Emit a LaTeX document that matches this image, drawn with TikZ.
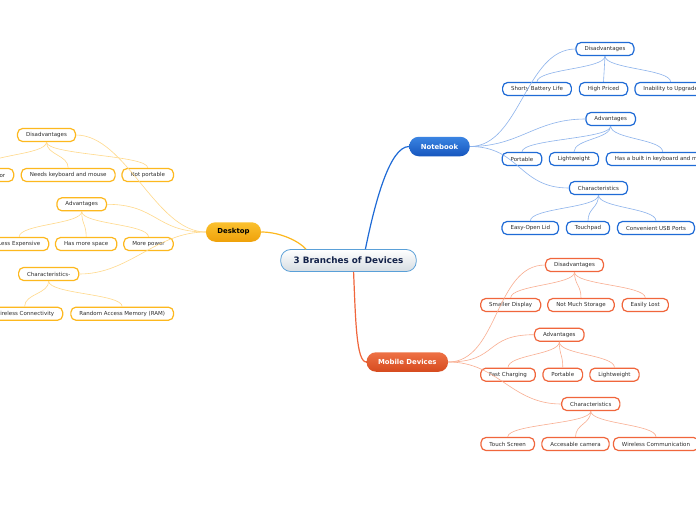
\documentclass[tikz,border=0pt]{standalone}
\usepackage{fontspec}
\setmainfont{DejaVu Sans}
\usepackage{xcolor}
\definecolor{nbblue}{RGB}{31,107,214}
\definecolor{nbtop}{RGB}{58,132,226}
\definecolor{nbbot}{RGB}{22,86,190}
\definecolor{nbpale}{RGB}{141,179,236}
\definecolor{dtgold}{RGB}{253,184,30}
\definecolor{dttop}{RGB}{251,193,46}
\definecolor{dtbot}{RGB}{239,161,10}
\definecolor{dtpale}{RGB}{255,217,138}
\definecolor{mdorange}{RGB}{240,102,60}
\definecolor{mdtop}{RGB}{238,113,69}
\definecolor{mdbot}{RGB}{214,74,30}
\definecolor{mdpale}{RGB}{249,174,145}
\definecolor{rootline}{RGB}{90,160,216}
\definecolor{rootfill}{RGB}{214,221,226}
\definecolor{rootink}{RGB}{20,35,74}
\definecolor{leafink}{RGB}{45,45,45}

\tikzset{
  root/.style={draw=rootline, line width=0.8pt, rounded corners=10pt, top color=white, bottom color=rootfill,
    text=rootink, font=\fontsize{8.8}{10}\selectfont\bfseries, minimum height=22pt, inner xsep=13pt},
  branch/.style={rounded corners=9.5pt, minimum height=19.5pt, inner xsep=11.5pt,
    font=\fontsize{6.9}{8}\selectfont\bfseries},
  leaf/.style={draw=#1, fill=white, line width=1.2pt, rounded corners=5pt, minimum height=13pt,
    inner xsep=8.5pt, text=leafink, font=\fontsize{5.5}{6}\selectfont},
  hub/.style={draw=#1, line width=1.2pt},
  twig/.style={draw=#1, line width=0.6pt},
}

\begin{document}
\begin{tikzpicture}[x=1pt, y=-1pt]
  \useasboundingbox (0,0) rectangle (696,520);
  \clip (0,0) rectangle (696,520);
  \fill[white] (0,0) rectangle (696,520);

  \node[root] (root) at (348.5,260.5) {3 Branches of Devices};

  % Notebook
  \node[branch, top color=nbtop, bottom color=nbbot, text=white] (nb) at (439.5,146.5) {Notebook};
  \node[leaf=nbblue] (nbdis) at (605,49) {Disadvantages};
  \node[leaf=nbblue] (nbbat) at (537,89) {Shorty Battery Life};
  \node[leaf=nbblue] (nbprice) at (603.5,89) {High Priced};
  \node[leaf=nbblue, anchor=west] (nbupg) at (634.3,89) {Inability to Upgrade};
  \node[leaf=nbblue] (nbadv) at (610.7,119) {Advantages};
  \node[leaf=nbblue] (nbport) at (522,159) {Portable};
  \node[leaf=nbblue] (nbweight) at (574,159) {Lightweight};
  \node[leaf=nbblue, anchor=west] (nbkey) at (605.7,159) {Has a built in keyboard and mouse};
  \node[leaf=nbblue] (nbchar) at (598.5,188) {Characteristics};
  \node[leaf=nbblue] (nblid) at (530.3,228) {Easy-Open Lid};
  \node[leaf=nbblue] (nbpad) at (588,228) {Touchpad};
  \node[leaf=nbblue] (nbusb) at (656,228) {Convenient USB Ports};

  % Desktop
  \node[branch, top color=dttop, bottom color=dtbot, text=black] (dt) at (233.5,232) {Desktop};
  \node[leaf=dtgold] (dtdis) at (46.5,135) {Disadvantages};
  \node[leaf=dtgold, anchor=east] (dtmon) at (14.3,175) {Needs a monitor};
  \node[leaf=dtgold] (dtkey) at (68.2,175) {Needs keyboard and mouse};
  \node[leaf=dtgold] (dtport) at (147.8,175) {Not portable};
  \node[leaf=dtgold] (dtadv) at (81.7,204.3) {Advantages};
  \node[leaf=dtgold, anchor=east] (dtcost) at (49.3,244) {Less Expensive};
  \node[leaf=dtgold] (dtspace) at (86.2,244) {Has more space};
  \node[leaf=dtgold] (dtpower) at (148.5,244) {More power};
  \node[leaf=dtgold] (dtchar) at (48.7,274) {Characteristics-};
  \node[leaf=dtgold, anchor=east] (dtwifi) at (63.3,313.7) {Wireless Connectivity};
  \node[leaf=dtgold] (dtram) at (122.2,313.7) {Random Access Memory (RAM)};

  % Mobile Devices
  \node[branch, top color=mdtop, bottom color=mdbot, text=white] (md) at (407.3,362) {Mobile Devices};
  \node[leaf=mdorange] (mddis) at (574.5,265) {Disadvantages};
  \node[leaf=mdorange] (mddisp) at (510.7,305) {Smaller Display};
  \node[leaf=mdorange] (mdstore) at (581,305) {Not Much Storage};
  \node[leaf=mdorange] (mdlost) at (645.3,305) {Easily Lost};
  \node[leaf=mdorange] (mdadv) at (559.3,334.7) {Advantages};
  \node[leaf=mdorange] (mdcharge) at (508,374.7) {Fast Charging};
  \node[leaf=mdorange] (mdport) at (562.8,374.7) {Portable};
  \node[leaf=mdorange] (mdweight) at (614.5,374.7) {Lightweight};
  \node[leaf=mdorange] (mdchar) at (590.8,404) {Characteristics};
  \node[leaf=mdorange] (mdtouch) at (507.7,444) {Touch Screen};
  \node[leaf=mdorange] (mdcam) at (575.5,444) {Accesable camera};
  \node[leaf=mdorange] (mdcomm) at (656,444) {Wireless Communication};

  % main branches
  \draw[hub=nbblue] (root.34) .. controls +(10,-49) and +(-19,0) .. (nb.west);
  \draw[hub=dtgold] (dt.east) .. controls +(20,0) and +(-6,-7) .. (root.165);
  \draw[hub=mdorange] (root.-66) .. controls +(2,48) and +(-10,0) .. (md.west);

  % branch to headings
  \foreach \h in {nbdis,nbadv,nbchar}
    \draw[twig=nbpale] (nb.east) .. controls +(50,0) and +(-50,0) .. (\h.west);
  \foreach \h in {dtdis,dtadv,dtchar}
    \draw[twig=dtpale] (dt.west) .. controls +(-50,0) and +(50,0) .. (\h.east);
  \foreach \h in {mddis,mdadv,mdchar}
    \draw[twig=mdpale] (md.east) .. controls +(50,0) and +(-50,0) .. (\h.west);

  % headings to leaves
  \foreach \l in {nbbat,nbprice,nbupg}
    \draw[twig=nbpale] (nbdis.south) .. controls +(0,13) and +(0,-13) .. (\l.north);
  \foreach \l in {nbport,nbweight,nbkey}
    \draw[twig=nbpale] (nbadv.south) .. controls +(0,13) and +(0,-13) .. (\l.north);
  \foreach \l in {nblid,nbpad,nbusb}
    \draw[twig=nbpale] (nbchar.south) .. controls +(0,13) and +(0,-13) .. (\l.north);
  \foreach \l in {dtmon,dtkey,dtport}
    \draw[twig=dtpale] (dtdis.south) .. controls +(0,13) and +(0,-13) .. (\l.north);
  \foreach \l in {dtcost,dtspace,dtpower}
    \draw[twig=dtpale] (dtadv.south) .. controls +(0,13) and +(0,-13) .. (\l.north);
  \foreach \l in {dtwifi,dtram}
    \draw[twig=dtpale] (dtchar.south) .. controls +(0,13) and +(0,-13) .. (\l.north);
  \foreach \l in {mddisp,mdstore,mdlost}
    \draw[twig=mdpale] (mddis.south) .. controls +(0,13) and +(0,-13) .. (\l.north);
  \foreach \l in {mdcharge,mdport,mdweight}
    \draw[twig=mdpale] (mdadv.south) .. controls +(0,13) and +(0,-13) .. (\l.north);
  \foreach \l in {mdtouch,mdcam,mdcomm}
    \draw[twig=mdpale] (mdchar.south) .. controls +(0,13) and +(0,-13) .. (\l.north);
\end{tikzpicture}
\end{document}
